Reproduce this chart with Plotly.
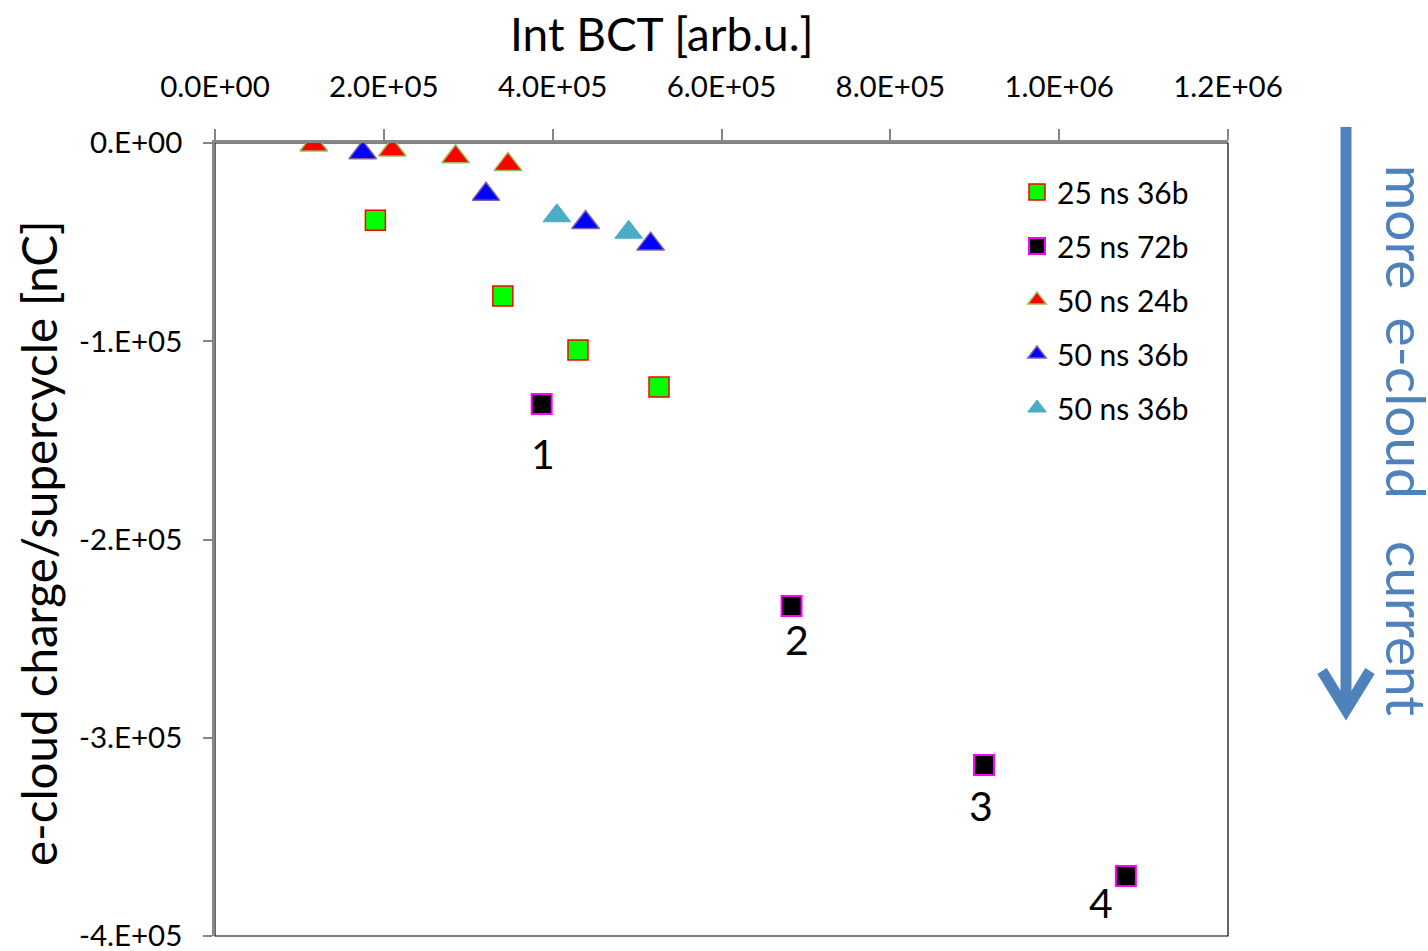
import plotly.graph_objects as go

# ---------------- data ----------------
g36_x = [1.90e5, 3.41e5, 4.30e5, 5.26e5]
g36_y = [-0.39e5, -0.772e5, -1.044e5, -1.231e5]

b72_x = [3.87e5, 6.83e5, 9.11e5, 1.079e6]
b72_y = [-1.317e5, -2.335e5, -3.137e5, -3.697e5]
b72_labels = ["1", "2", "3", "4"]

r24_x = [1.17e5, 2.10e5, 2.85e5, 3.47e5]
r24_y = [-1000, -3500, -6900, -10800]

bl36_x = [1.75e5, 3.21e5, 4.39e5, 5.16e5]
bl36_y = [-4900, -25900, -40100, -51000]

cy36_x = [4.05e5, 4.90e5]
cy36_y = [-36700, -45000]

x_ticks = [0, 2e5, 4e5, 6e5, 8e5, 1e6, 1.2e6]
x_ticktext = ["0.0E+00", "2.0E+05", "4.0E+05", "6.0E+05", "8.0E+05", "1.0E+06", "1.2E+06"]
y_ticks = [0, -1e5, -2e5, -3e5, -4e5]
y_ticktext = ["0.E+00", "-1.E+05", "-2.E+05", "-3.E+05", "-4.E+05"]

FONT = "Lato"
W, H = 1428, 951
ML, MT = 215, 143
MR = W - 1228
MB = H - 936
PW, PH = W - ML - MR, H - MT - MB


def px(xp):
    return (xp - ML) / PW


def py(yp):
    return (H - MB - yp) / PH


fig = go.Figure()

fig.add_trace(go.Scatter(x=g36_x, y=g36_y, mode="markers", name="25 ns 36b", legendgroup="a",
                         marker=dict(symbol="square", size=20, color="#00FF00",
                                     line=dict(color="#FF0000", width=1.5))))
fig.add_trace(go.Scatter(x=b72_x, y=b72_y, mode="markers", name="25 ns 72b", legendgroup="b",
                         marker=dict(symbol="square", size=20, color="#000000",
                                     line=dict(color="#FF00FF", width=2))))
fig.add_trace(go.Scatter(x=r24_x, y=r24_y, mode="markers", name="50 ns 24b", legendgroup="c",
                         marker=dict(symbol="triangle-up", size=24, color="#FF0000",
                                     line=dict(color="#9BBB59", width=1.5))))
fig.add_trace(go.Scatter(x=bl36_x, y=bl36_y, mode="markers", name="50 ns 36b", legendgroup="d",
                         marker=dict(symbol="triangle-up", size=24, color="#0000FF",
                                     line=dict(color="#8064A2", width=1.5))))
fig.add_trace(go.Scatter(x=cy36_x, y=cy36_y, mode="markers", name="50 ns 36b ", legendgroup="e",
                         marker=dict(symbol="triangle-up", size=24, color="#4BACC6",
                                     line=dict(color="#4BACC6", width=1))))

# point labels
shifts = [(1, -49), (5, -34), (-3, -41), (-25, -27)]
annotations = []
for xv, yv, t, (dx, dy) in zip(b72_x, b72_y, b72_labels, shifts):
    annotations.append(dict(x=xv, y=yv, xref="x", yref="y", text=t, showarrow=False,
                            xshift=dx, yshift=dy, font=dict(family=FONT, size=41, color="black")))

# axis titles
annotations.append(dict(x=px(662), y=py(33), xref="paper", yref="paper", text="Int BCT [arb.u.]",
                        showarrow=False, font=dict(family=FONT, size=46, color="black"),
                        xanchor="center", yanchor="middle", borderpad=0))
annotations.append(dict(x=px(38), y=py(543), xref="paper", yref="paper",
                        text="e-cloud charge/supercycle [nC]", textangle=-90,
                        showarrow=False, font=dict(family=FONT, size=47.5, color="black"),
                        xanchor="center", yanchor="middle"))
# right side note
annotations.append(dict(x=px(1407), y=py(440), xref="paper", yref="paper",
                        text="more  e-cloud   current", textangle=90,
                        showarrow=False, font=dict(family=FONT, size=55, color="#4F81BD"),
                        xanchor="center", yanchor="middle", borderpad=0))

shapes = [
    # frame (right and bottom dark thin lines)
    dict(type="rect", xref="paper", yref="paper", x0=0, x1=1, y0=0, y1=1,
         line=dict(color="#000000", width=1.2), layer="below"),
    # arrow shaft
    dict(type="line", xref="paper", yref="paper", x0=px(1346), x1=px(1346), y0=py(127), y1=py(710),
         line=dict(color="#4F81BD", width=11)),
    # arrow head
    dict(type="path", xref="paper", yref="paper",
         path=f"M {px(1322)},{py(671)} L {px(1346)},{py(710)} L {px(1370)},{py(671)}",
         line=dict(color="#4F81BD", width=11)),
]

fig.update_layout(
    width=W, height=H,
    margin=dict(l=ML, r=MR, t=MT, b=MB, autoexpand=False),
    paper_bgcolor="white", plot_bgcolor="white",
    font=dict(family=FONT, color="black"),
    showlegend=True,
    legend=dict(x=px(1017), y=py(166), xanchor="left", yanchor="top",
                font=dict(family=FONT, size=30, color="black"),
                tracegroupgap=12, bgcolor="rgba(0,0,0,0)"),
    annotations=annotations,
    shapes=shapes,
)

fig.update_xaxes(range=[0, 1.2e6], side="top", tickvals=x_ticks, ticktext=x_ticktext,
                 showgrid=False, zeroline=False, showline=True, linecolor="#868686", linewidth=2.5,
                 ticks="outside", ticklen=11, tickwidth=2, tickcolor="#868686",
                 tickfont=dict(family=FONT, size=29.5, color="black"), ticklabelstandoff=20,
                 anchor="y", position=1)
fig.update_yaxes(range=[-4e5, 0], tickvals=y_ticks, ticktext=y_ticktext,
                 showgrid=False, zeroline=False, showline=True, linecolor="#868686", linewidth=2.5,
                 ticks="outside", ticklen=9, tickwidth=2, tickcolor="#868686",
                 tickfont=dict(family=FONT, size=29.5, color="black"), ticklabelstandoff=15,
                 ticklabeloverflow="allow")

fig.write_html("out.html", config={"displayModeBar": False},
               post_script="document.body.style.margin='0px';document.body.style.overflow='hidden';")
